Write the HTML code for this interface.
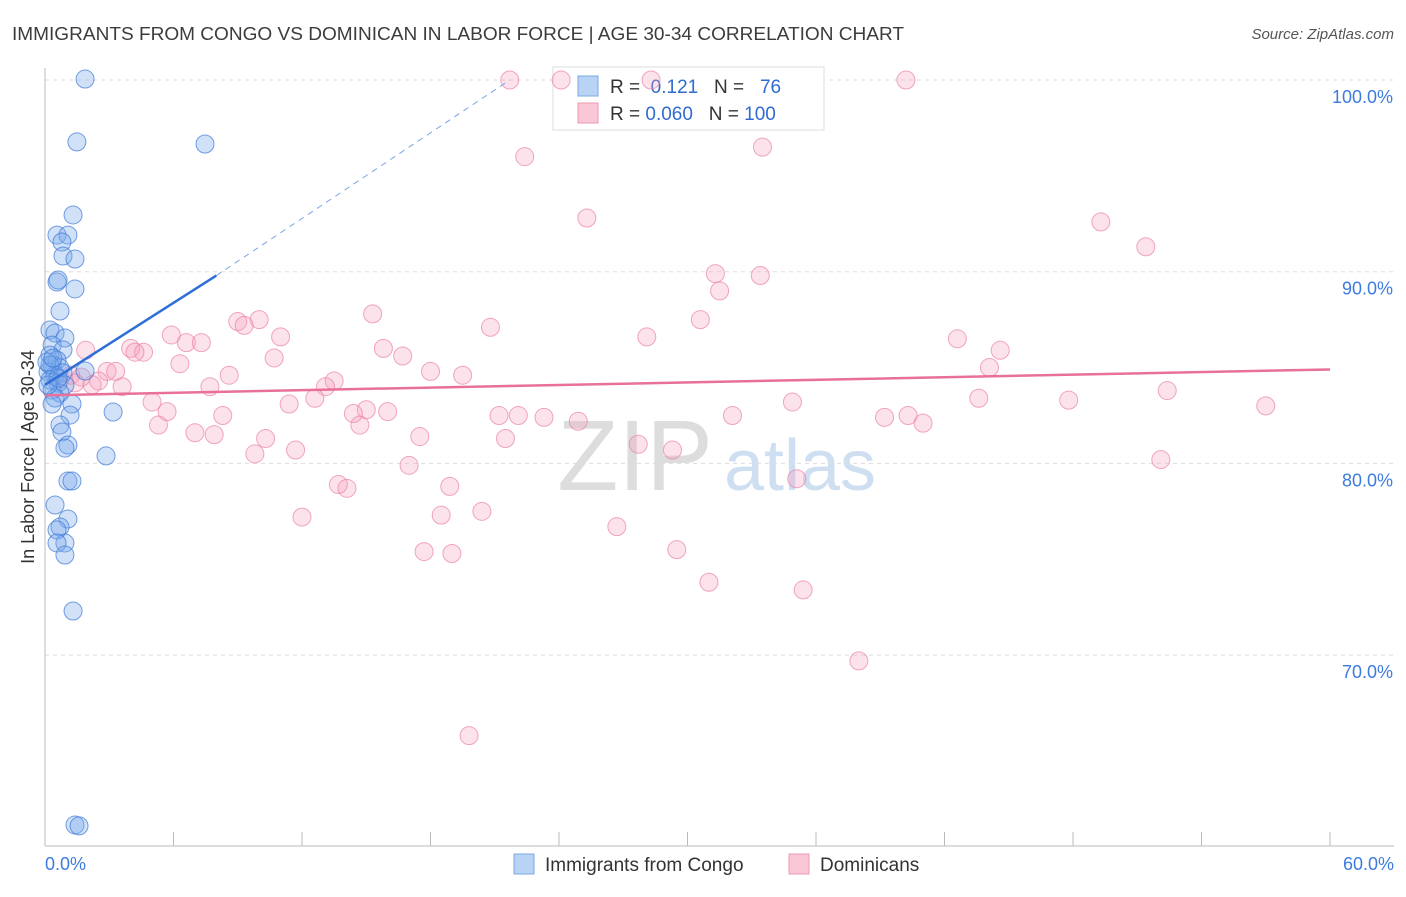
<!DOCTYPE html>
<html><head><meta charset="utf-8"><style>
body{margin:0;background:#fff;font-family:"Liberation Sans",sans-serif;}
svg text{font-family:"Liberation Sans",sans-serif;}
</style></head><body>
<svg id="chart" width="1406" height="892">
<text x="12" y="40" font-size="18" fill="#3c3c3c" textLength="892" lengthAdjust="spacingAndGlyphs">IMMIGRANTS FROM CONGO VS DOMINICAN IN LABOR FORCE | AGE 30-34 CORRELATION CHART</text>
<text x="1394" y="39" font-size="15" fill="#555" text-anchor="end" font-style="italic">Source: ZipAtlas.com</text>
<text x="635" y="490" font-size="100" fill="#ddd" font-family="Liberation Serif" text-anchor="middle">ZIP</text>
<text x="800" y="490" font-size="72" fill="#cfdff2" text-anchor="middle">atlas</text>
<text transform="translate(34,457) rotate(-90)" font-size="18" fill="#333" text-anchor="middle">In Labor Force | Age 30-34</text>
<g id="grid"></g><g id="ticks"></g>
<g>
<rect x="553" y="67" width="271" height="63" fill="#fff" stroke="#ddd"/>
<rect x="578" y="76" width="20" height="20" fill="#b9d3f5" stroke="#7aaae6"/>
<rect x="578" y="103" width="20" height="20" fill="#f9c7d6" stroke="#ee9ab3"/>
<text x="610" y="93" font-size="19" fill="#333">R = <tspan fill="#2f6bd1">&#160;0.121</tspan>&#160;&#160;&#160;N = <tspan fill="#2f6bd1">&#160;&#160;76</tspan></text>
<text x="610" y="120" font-size="19" fill="#333">R = <tspan fill="#2f6bd1">0.060</tspan>&#160;&#160;&#160;N = <tspan fill="#2f6bd1">100</tspan></text>
</g>
<g id="pts"></g><g id="trend"></g>
<g>
<rect x="514" y="854" width="20" height="20" fill="#b9d3f5" stroke="#7aaae6"/>
<text x="545" y="871" font-size="19" fill="#333">Immigrants from Congo</text>
<rect x="789" y="854" width="20" height="20" fill="#f9c7d6" stroke="#ee9ab3"/>
<text x="820" y="871" font-size="19" fill="#333">Dominicans</text>
</g>
</svg>
<script>
const xTicks=[0,6,12,18,24,30,36,42,48,54,60];
const yTicks=[70,80,90,100];
const congoX=[1.87,1.49,7.47,1.31,0.56,1.07,0.79,0.84,1.40,0.56,0.61,1.40,0.70,0.23,0.47,0.93,0.33,0.84,0.23,0.56,0.33,0.70,0.14,0.47,0.84,1.87,0.23,0.61,0.93,0.33,0.70,0.47,0.33,1.26,1.17,3.18,0.70,0.79,1.07,0.93,2.85,1.07,1.26,0.47,1.07,0.70,0.56,0.93,0.56,0.93,1.31,1.40,1.59,0.23,0.09,0.37,0.14,0.61];
const congoY=[100.05,96.77,96.66,92.96,91.91,91.91,91.55,90.82,90.66,89.46,89.57,89.1,87.95,86.96,86.8,86.54,86.17,85.92,85.65,85.39,85.13,84.98,84.77,84.61,84.72,84.82,84.35,84.19,84.09,83.83,83.67,83.41,83.1,83.1,82.52,82.68,82.0,81.64,80.96,80.8,80.39,79.08,79.08,77.83,77.1,76.68,76.53,75.85,75.85,75.22,72.3,61.14,61.09,85.13,85.29,85.49,84.09,84.45];
const domX=[21.7,24.1,28.3,40.2,22.4,33.5,25.3,49.3,51.4,31.3,33.4,31.5,15.3,30.6,9.0,10.0,9.3,20.8,5.9,11.0,28.1,42.6,6.6,7.3,1.9,4.0,4.6,4.2,15.8,44.6,10.7,16.7,6.3,44.1,2.9,3.3,8.6,18.0,19.5,2.5,3.6,13.5,13.1,7.7,2.2,52.4,5.0,12.6,11.4,43.6,34.9,47.8,57.0,5.7,15.0,14.4,16.0,8.3,21.2,22.1,23.3,24.9,32.1,39.2,40.3,41.0,5.3,14.7,7.0,7.9,17.5,21.5,10.3,27.7,29.3,9.8,11.7,17.0,52.1,35.1,13.7,14.1,18.9,20.4,12.0,18.5,26.7,17.7,19.0,29.5,31.0,35.4,38.0,19.8,1.2,1.7,1.4,0.7];
const domY=[100,100,100,100,96.0,96.5,92.8,92.6,91.3,89.9,89.8,89.0,87.8,87.5,87.4,87.5,87.2,87.1,86.7,86.6,86.6,86.5,86.3,86.3,85.9,86.0,85.8,85.8,86.0,85.9,85.5,85.6,85.2,85.0,84.8,84.8,84.6,84.8,84.6,84.3,84.0,84.3,84.0,84.0,84.1,83.8,83.2,83.4,83.1,83.4,83.2,83.3,83.0,82.7,82.8,82.6,82.7,82.5,82.5,82.5,82.4,82.2,82.5,82.4,82.5,82.1,82.0,82.0,81.6,81.5,81.4,81.3,81.3,81.0,80.7,80.5,80.7,79.9,80.2,79.2,78.9,78.7,78.8,77.5,77.2,77.3,76.7,75.4,75.3,75.5,73.8,73.4,69.7,65.8,84.6,84.5,84.2,84.4];
const congoTrendX=[0,8.0,21.7];
const congoTrendY=[84.1,89.8,100];
const domTrendX=[0,60];
const domTrendY=[83.55,84.9];
const NS="http://www.w3.org/2000/svg";
const sx=v=>45+v/60*1285;
const sy=v=>80+(100-v)*19.17;
function mk(tag,attrs,parent){const e=document.createElementNS(NS,tag);for(const k in attrs)e.setAttribute(k,attrs[k]);document.getElementById(parent).appendChild(e);return e;}
let ax=mk('line',{x1:45,y1:68,x2:45,y2:846,stroke:'#bbb'},'ticks');


let bx=mk('line',{x1:45,y1:846,x2:1394,y2:846,stroke:'#bbb'},'ticks');


yTicks.forEach(t=>{
 const g=mk('line',{x1:45,y1:sy(t),x2:1394,y2:sy(t),stroke:'#ddd','stroke-dasharray':'4,4'},'grid');
 
 
 const l=mk('text',{x:1393,y:sy(t)+23,'font-size':18,fill:'#3d7be0','text-anchor':'end'},'ticks');
 l.textContent=t.toFixed(1)+'%';
 
 
});
xTicks.forEach((t,i)=>{
 const k=mk('line',{x1:sx(t),y1:832,x2:sx(t),y2:846,stroke:'#bbb'},'ticks');
 
 
});
[[0,'start',45],[60,'end',1394]].forEach(([v,a,x])=>{
 const l=mk('text',{x:x,y:870,'font-size':18,fill:'#3d7be0','text-anchor':a},'ticks');
 l.textContent=v.toFixed(1)+'%';
 
 
});
domX.forEach((x,i)=>{
 const c=mk('circle',{cx:sx(x),cy:sy(domY[i]),r:9,fill:'rgba(245,160,190,0.3)',stroke:'rgba(235,130,165,0.7)','stroke-width':1},'pts');
 
 
});
congoX.forEach((x,i)=>{
 const c=mk('circle',{cx:sx(x),cy:sy(congoY[i]),r:9,fill:'rgba(120,170,235,0.35)',stroke:'rgba(60,120,215,0.7)','stroke-width':1},'pts');
 
 
});
let t1=mk('line',{x1:sx(congoTrendX[0]),y1:sy(congoTrendY[0]),x2:sx(congoTrendX[1]),y2:sy(congoTrendY[1]),stroke:'#2f6fd8','stroke-width':2.5},'trend');


let t2=mk('line',{x1:sx(congoTrendX[1]),y1:sy(congoTrendY[1]),x2:sx(congoTrendX[2]),y2:sy(congoTrendY[2]),stroke:'#7aa6e6','stroke-width':1,'stroke-dasharray':'6,5'},'trend');


let t3=mk('line',{x1:sx(domTrendX[0]),y1:sy(domTrendY[0]),x2:sx(domTrendX[1]),y2:sy(domTrendY[1]),stroke:'#e8709a','stroke-width':2.5},'trend');


</script>
</body></html>
